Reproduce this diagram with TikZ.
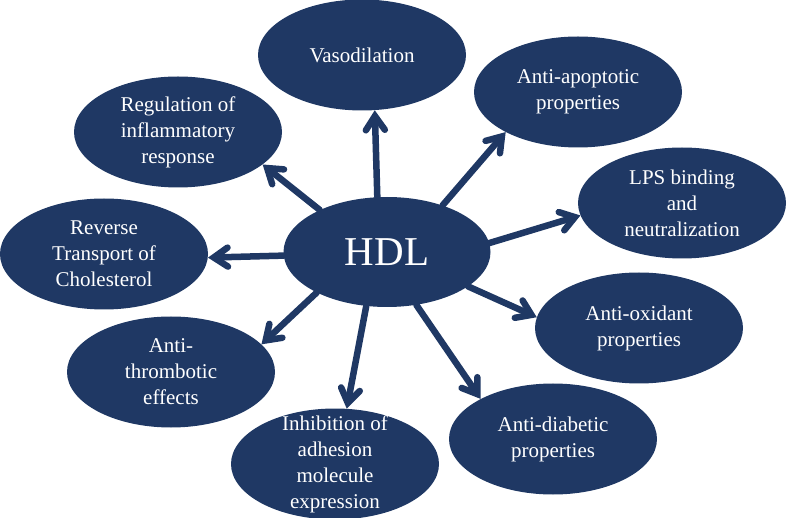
\documentclass[tikz,border=0pt]{standalone}
\usepackage{fontspec}
\setmainfont{Liberation Serif}
\usetikzlibrary{shapes.geometric,arrows.meta}
\definecolor{hdlBlue}{RGB}{31,56,100}

\begin{document}
\begin{tikzpicture}
[x=1pt,y=-1pt,
  hubDecorate/.style={shape=ellipse,fill=hdlBlue,text=white,inner sep=0pt,minimum width=207pt,minimum height=110pt,font=\fontsize{41}{48}\selectfont},%
  nodeDecorate/.style={shape=ellipse,fill=hdlBlue,text=white,align=center,inner sep=0pt,inner ysep=-14pt,minimum width=208pt,minimum height=111pt,font=\fontsize{21}{26}\selectfont},%
  lineDecorate/.style={-{Straight Barb[length=14pt,width=19pt,line cap=round]},line width=6.5pt,draw=hdlBlue,line cap=round}]
\useasboundingbox (0,0) rectangle (787,518);
%% centre
\node (hdl) at (387,252) [hubDecorate] {HDL};
%% effects
\foreach \nodename/\x/\y/\nodetext in {vaso/362/55/{Vasodilation},
  reg/178/132/{Regulation of\\inflammatory\\response},
  rev/104/254/{Reverse\\Transport of\\Cholesterol},
  apop/578/92/{Anti-apoptotic\\properties},
  lps/682/203/{LPS binding\\and\\neutralization},
  oxi/639/328/{Anti-oxidant\\properties},
  diab/553/439/{Anti-diabetic\\properties},
  thro/171/372/{Anti-\\thrombotic\\effects},
  inhib/335/464/{Inhibition of\\adhesion\\molecule\\expression}}
{
  \node (\nodename) at (\x,\y) [nodeDecorate] {\nodetext};
}
%% arrows
\foreach \startangle/\endnode/\endangle in {100/vaso/283, 148/reg/339, 182/rev/358,
  40/apop/209, 5/lps/187, 337/oxi/174, 299/diab/151, 210/thro/17, 249/inhib/78}
{
  \draw[lineDecorate] (hdl.\startangle) -- (\endnode.\endangle);
}
\end{tikzpicture}
\end{document}
